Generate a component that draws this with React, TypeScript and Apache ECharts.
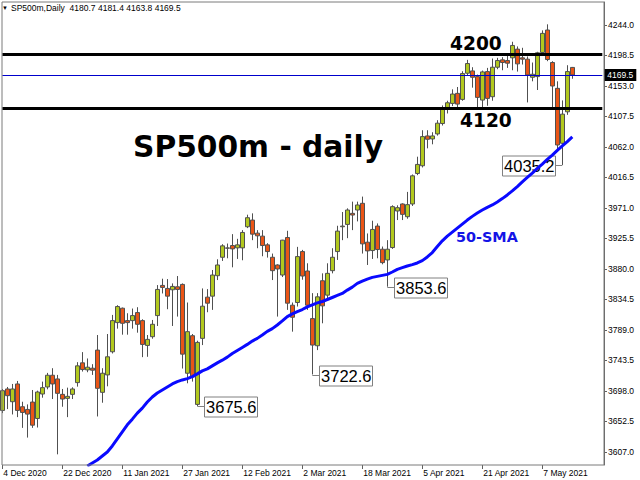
import React, { useEffect, useRef } from "react";
import * as echarts from "echarts";

const dates = [
  "4 Dec 2020","7 Dec 2020","8 Dec 2020","9 Dec 2020","10 Dec 2020","11 Dec 2020","14 Dec 2020","15 Dec 2020","16 Dec 2020","17 Dec 2020","18 Dec 2020","21 Dec 2020","22 Dec 2020","23 Dec 2020","24 Dec 2020","28 Dec 2020","29 Dec 2020","30 Dec 2020","31 Dec 2020",
  "4 Jan 2021","5 Jan 2021","6 Jan 2021","7 Jan 2021","8 Jan 2021","11 Jan 2021","12 Jan 2021","13 Jan 2021","14 Jan 2021","15 Jan 2021","18 Jan 2021","19 Jan 2021","20 Jan 2021","21 Jan 2021","22 Jan 2021","25 Jan 2021","26 Jan 2021","27 Jan 2021","28 Jan 2021","29 Jan 2021",
  "1 Feb 2021","2 Feb 2021","3 Feb 2021","4 Feb 2021","5 Feb 2021","8 Feb 2021","9 Feb 2021","10 Feb 2021","11 Feb 2021","12 Feb 2021","15 Feb 2021","16 Feb 2021","17 Feb 2021","18 Feb 2021","19 Feb 2021","22 Feb 2021","23 Feb 2021","24 Feb 2021","25 Feb 2021","26 Feb 2021",
  "1 Mar 2021","2 Mar 2021","3 Mar 2021","4 Mar 2021","5 Mar 2021","8 Mar 2021","9 Mar 2021","10 Mar 2021","11 Mar 2021","12 Mar 2021","15 Mar 2021","16 Mar 2021","17 Mar 2021","18 Mar 2021","19 Mar 2021","22 Mar 2021","23 Mar 2021","24 Mar 2021","25 Mar 2021","26 Mar 2021","29 Mar 2021","30 Mar 2021","31 Mar 2021",
  "1 Apr 2021","2 Apr 2021","5 Apr 2021","6 Apr 2021","7 Apr 2021","8 Apr 2021","9 Apr 2021","12 Apr 2021","13 Apr 2021","14 Apr 2021","15 Apr 2021","16 Apr 2021","19 Apr 2021","20 Apr 2021","21 Apr 2021","22 Apr 2021","23 Apr 2021","26 Apr 2021","27 Apr 2021","28 Apr 2021","29 Apr 2021","30 Apr 2021",
  "3 May 2021","4 May 2021","5 May 2021","6 May 2021","7 May 2021","10 May 2021","11 May 2021","12 May 2021","13 May 2021","14 May 2021","17 May 2021"
];

const opens = [
  3669,3701,3682,3708.5,3674.5,3670.5,3681.5,3657,3693.5,3704,3721.5,3716,3693,3687,3693,3710.5,3740,3729.5,3732,
  3759,3696,3722,3756.5,3800,3821.5,3803,3803,3815,3803,3766,3779,3810.5,3855.5,3851,3849,3853.5,3857,3724.5,3780.5,
  3678,3776.5,3838,3839.5,3870,3897.5,3911.5,3915,3911.5,3911.5,3943,3953,3933.5,3929,3916,3897.5,3886,3871,3927,3826,
  3830,3906,3877,3806,3765.5,3862.5,3841,3877.5,3906,3943,3946.5,3963,3968,3978,3920,3907.5,3944,3909.5,3893.5,3912,3966.5,3977,3958,
  3977,4022.5,4034,4078.5,4074,4081.5,4097,4121,4127,4142,4133,4172,4175.5,4167,4132,4174.5,4137,4181,4192,4191,4195,4208,
  4195,4193,4166,4167,4203,4236.5,4188,4149.5,4067.5,4114.5,4180.7
];
const highs = [
  3701,3704,3708.5,3713,3682,3678,3699.5,3698.5,3712,3725,3732,3722,3701,3703,3703.5,3741,3756,3746.5,3738,
  3781.5,3732,3783,3811.5,3826,3822.5,3814,3821,3823,3805,3781.5,3804,3856,3865.5,3865,3858.5,3869.5,3858.5,3830,3783,
  3773,3851,3850,3878.5,3894.5,3917,3918,3932,3925,3938,3961,3963,3938,3938,3918.5,3903,3887,3923.5,3937,3830,
  3913,3908.5,3888.5,3844,3844,3873.5,3888.5,3911,3944.5,3965,3970.5,3980.5,3980.5,3988,3933,3952,3948,3913.5,3923,3975,3975,3978,3995,
  4021,4047.5,4087,4087,4084,4102,4124,4131,4148,4151.5,4175,4192,4181,4170,4176,4180,4194,4195,4196,4202,4219,4212,
  4210,4197,4188,4204,4236,4245,4190,4160,4131.5,4184,4181.4
];
const lows = [
  3665,3671,3663,3659,3643,3628.5,3643,3643.5,3688,3700.5,3686,3603.5,3674.5,3659,3686,3704.5,3727,3726,3722,
  3660,3680.5,3705,3754,3791,3782,3782,3791,3785,3748.5,3749,3776,3795,3843.5,3820,3795,3809,3731.5,3709.5,3712,
  3675.6,3766.5,3815.5,3819,3863.5,3892,3896,3882.5,3895,3893,3941,3923,3911,3899,3897,3863.5,3809,3868,3819,3786.5,
  3824,3864,3819,3722.6,3759,3799,3834,3873.5,3893.5,3923,3926,3938,3951,3903,3886,3895,3896,3887,3853.6,3910,3953,3953,3955,
  3974,4020,4031.5,4060,4066,4079,4094,4112,4123,4120.5,4131,4168,4150.5,4118,4118,4123.5,4131,4178,4176.5,4180,4176.5,4174.5,
  4185,4128.5,4160,4147,4201,4190,4120,4056,4035.2,4110,4163.8
];
const closes = [
  3698.5,3691,3701,3669,3666,3663.5,3647,3696.5,3703,3721.5,3708.5,3694.5,3686,3690,3701,3735.5,3730,3733.5,3729,
  3702,3724.5,3749,3803,3824,3799,3800,3810.5,3797.5,3767.5,3775,3797.5,3849.5,3852.5,3839.5,3854,3849.5,3753,3786.5,3719,
  3770.5,3824.5,3829,3871,3886,3914.5,3911,3910,3916,3934.5,3956.5,3932,3929.5,3915,3906,3877.5,3880,3923,3829,3808,
  3898.5,3869.5,3826,3766.5,3838.5,3825,3873.5,3897.5,3936.5,3944,3968,3960.5,3975.5,3917.5,3907,3939,3909,3889.5,3909.5,3973,3971.5,3961.5,3976,
  4019,4036,4077.5,4073.5,4078.5,4097.5,4120,4128,4141,4126,4171.5,4186.5,4166,4136,4174,4134.5,4181,4191,4188,4187,4213.5,4186,
  4193,4169.5,4170.5,4202.5,4231.5,4192.5,4153,4065,4111,4174.5,4169.5
];

const sma50 = [
  null,null,null,null,null,null,null,null,null,null,null,null,null,null,null,null,null,
  3586,3590.5,3595,3601,3607,3616,3626.5,3637,3647.5,3656,3665,3672.5,3681.5,3689,3695,3699.5,3704,3708.5,3712,3714.5,3716.5,3719.5,
  3723.5,3728,3731,3735.5,3740,3744,3748.5,3754,3758.5,3763,3767.5,3772.5,3776.5,3781.5,3787,3791,3796.5,3802.5,3809,3813,
  3816.5,3819.5,3823.5,3826.5,3829.5,3831.5,3834.5,3837.5,3840.5,3843.5,3848.5,3853,3858.5,3862,3865,3867.5,3869,3870.5,3872,3875.5,3879.5,3882,3884.5,
  3886.5,3889,3892.5,3898,3904.5,3913.5,3922,3929,3935,3941,3947,3953,3958.5,3963.5,3968,3972,3975.5,3980,3985,3990.5,3996.5,4003,
  4010,4016.5,4023,4030,4036.5,4043.5,4050,4057,4063.5,4070,4077
];

const yTicks = [3607.0,3652.5,3698.0,3743.5,3789.0,3834.5,3880.0,3925.5,3971.0,4016.5,4062.0,4107.5,4153.0,4198.5,4244.0];
const levels = [4200, 4120];
const lastPrice = 4169.5;
const calloutIndex = [39, 62, 77, 112];
const calloutSide = [1, 1, 1, -1];
const emptySlots = 6;
const labelEvery = 12;

const AX_FONT = '"Liberation Sans", Arial, sans-serif';
const BIG_FONT = '"DejaVu Sans", Verdana, sans-serif';

export default function App() {
  const ref = useRef<HTMLDivElement>(null);
  useEffect(() => {
    if (!ref.current) return;
    const chart = echarts.init(ref.current, null, { renderer: "svg" });
    const categories = [...dates, ...Array(emptySlots).fill("")];
    const candles = dates.map((_, i) => [opens[i], closes[i], lows[i], highs[i]]);
    const callouts = calloutIndex.map((idx, k) => [idx, lows[idx], calloutSide[k]]);
    const n = dates.length - 1;
    const header = `SP500m,Daily  ${opens[n].toFixed(1)} ${highs[n].toFixed(1)} ${lows[n].toFixed(1)} ${closes[n].toFixed(1)}`;

    chart.setOption({
      animation: false,
      backgroundColor: "#ffffff",
      grid: { left: 2.3, right: 37.7, top: 2, bottom: 15, show: false },
      xAxis: {
        type: "category",
        data: categories,
        boundaryGap: false,
        axisLine: { show: false },
        axisTick: {
          show: true,
          length: 4,
          interval: (i: number) => i % labelEvery === 0 && i < dates.length,
          lineStyle: { color: "#606060" },
        },
        axisLabel: {
          show: true,
          interval: (i: number) => i % labelEvery === 0 && i < dates.length,
          align: "left",
          margin: 3,
          padding: [0, 0, 0, 1],
          fontSize: 8.5,
          fontFamily: AX_FONT,
          color: "#000",
        },
        splitLine: { show: false },
      },
      yAxis: {
        type: "value",
        position: "right",
        offset: 1.7,
        min: 3587.6,
        max: 4278.3,
        scale: true,
        axisLine: { show: true, lineStyle: { color: "#606060" } },
        axisTick: { show: true, length: 3, customValues: yTicks, lineStyle: { color: "#606060" } },
        axisLabel: {
          show: true,
          customValues: yTicks,
          formatter: (v: number) => v.toFixed(1),
          margin: 4,
          fontSize: 8.5,
          fontFamily: AX_FONT,
          color: "#000",
        },
        splitLine: { show: false },
      },
      graphic: [
        { type: "rect", z: 100, silent: true, shape: { x: 2, y: 2, width: 602, height: 463 }, style: { fill: "none", stroke: "#7a7a7a", lineWidth: 1 } },
        { type: "text", z: 100, x: 2, y: 8, style: { text: "▼", fontSize: 6, fontFamily: AX_FONT, fill: "#000", verticalAlign: "middle" } },
        { type: "text", z: 100, x: 11, y: 8, style: { text: header, fontSize: 8.5, fontFamily: AX_FONT, fill: "#000", verticalAlign: "middle" } },
        { type: "text", z: 100, x: 133, y: 146, style: { text: "SP500m - daily", fontSize: 29.7, fontWeight: "bold", fontFamily: BIG_FONT, fill: "#000", verticalAlign: "middle" } },
        { type: "text", z: 100, x: 450, y: 43, style: { text: String(levels[0]), fontSize: 18.6, fontWeight: "bold", fontFamily: BIG_FONT, fill: "#000", verticalAlign: "middle" } },
        { type: "text", z: 100, x: 460, y: 120.5, style: { text: String(levels[1]), fontSize: 18.6, fontWeight: "bold", fontFamily: BIG_FONT, fill: "#000", verticalAlign: "middle" } },
        { type: "text", z: 100, x: 456, y: 236.5, style: { text: "50-SMA", fontSize: 14.4, fontWeight: "bold", fontFamily: BIG_FONT, fill: "#1414e6", verticalAlign: "middle" } },
      ],
      series: [
        {
          type: "line",
          data: [],
          z: 1,
          markLine: {
            silent: true,
            symbol: ["none", "none"],
            animation: false,
            lineStyle: { color: "#0000cc", width: 1.2, type: "solid", opacity: 1 },
            label: {
              show: true,
              position: "end",
              distance: 2,
              formatter: lastPrice.toFixed(1),
              backgroundColor: "#000",
              color: "#fff",
              padding: [2, 3, 1, 3],
              fontSize: 8.5,
              fontFamily: AX_FONT,
            },
            data: [{ yAxis: lastPrice }],
          },
        },
        {
          type: "candlestick",
          data: candles,
          barWidth: 4,
          z: 2,
          itemStyle: {
            color: "#b2c81e",
            color0: "#ea5516",
            borderColor: "#505050",
            borderColor0: "#505050",
            borderWidth: 1,
          },
          markLine: {
            silent: true,
            symbol: ["none", "none"],
            animation: false,
            label: { show: false },
            lineStyle: { color: "#000", width: 3, type: "solid" },
            data: levels.map((v) => ({ yAxis: v })),
          },
        },
        {
          type: "custom",
          data: callouts,
          encode: { x: 0, y: 1 },
          z: 3,
          renderItem: (params: any, api: any) => {
            const idx = api.value(0);
            const val = api.value(1);
            const side = api.value(2);
            const p = api.coord([idx, val]);
            const gap = 7, w = 53, h = 20;
            const bx = side > 0 ? p[0] + gap : p[0] - gap - w;
            const yy = Math.round(p[1]) + 0.5;
            return {
              type: "group",
              children: [
                { type: "line", shape: { x1: p[0], y1: yy, x2: side > 0 ? bx : bx + w, y2: yy }, style: { stroke: "#808080", lineWidth: 1 } },
                { type: "rect", shape: { x: Math.round(bx) + 0.5, y: Math.round(yy - h / 2), width: w, height: h }, style: { fill: "#fff", stroke: "#808080", lineWidth: 1 } },
                { type: "text", style: { text: Number(val).toFixed(1), x: bx + w / 2 + 0.5, y: yy, align: "center", verticalAlign: "middle", fill: "#000", fontSize: 16.5, fontFamily: AX_FONT } },
              ],
            };
          },
        },
        {
          type: "line",
          data: sma50,
          z: 4,
          showSymbol: false,
          symbol: "none",
          smooth: false,
          connectNulls: false,
          lineStyle: { color: "#0a0aff", width: 3 },
        },
      ],
    });
    return () => chart.dispose();
  }, []);
  return <div ref={ref} style={{ position: "fixed", left: 0, top: 0, width: 640, height: 480 }} />;
}
